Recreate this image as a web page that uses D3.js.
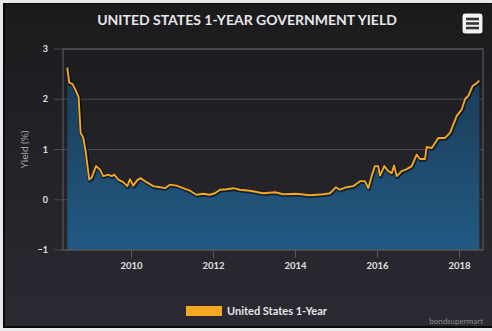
<!DOCTYPE html>
<html>
<head>
<meta charset="utf-8">
<script src="https://cdn.jsdelivr.net/npm/d3@7"></script>
<style>
  html, body { margin: 0; padding: 0; background: #e9e9ec; }
  svg { display: block; }
</style>
</head>
<body>
<div id="chart"></div>
<script>
// 1-year treasury yield
var dates = ["2008-06-12","2008-06-30","2008-07-30","2008-09-04","2008-09-21","2008-10-09","2008-11-01","2008-11-25","2008-12-25",
  "2009-01-15","2009-02-23","2009-03-31","2009-04-29","2009-06-12","2009-07-13","2009-08-05","2009-09-10","2009-10-24","2009-11-29","2009-12-23",
  "2010-01-21","2010-02-26","2010-03-28","2010-05-20","2010-07-18","2010-09-16","2010-10-30","2010-12-13",
  "2011-02-11","2011-04-11","2011-06-10","2011-08-08","2011-10-06","2011-12-05",
  "2012-01-18","2012-03-03","2012-05-02","2012-06-30","2012-08-29","2012-11-25",
  "2013-03-25","2013-07-07","2013-09-18",
  "2014-01-15","2014-05-14","2014-09-10","2014-11-08",
  "2015-01-01","2015-02-05","2015-04-05","2015-06-03","2015-08-02","2015-09-16","2015-10-15","2015-11-14","2015-12-13",
  "2016-01-12","2016-01-27","2016-03-06","2016-04-11","2016-05-11","2016-06-01","2016-06-25","2016-08-08","2016-09-22","2016-11-05","2016-12-19",
  "2017-01-18","2017-03-03","2017-03-18","2017-05-02","2017-06-30","2017-08-29","2017-10-12","2017-12-11",
  "2018-01-25","2018-02-23","2018-03-25","2018-05-03","2018-06-08","2018-06-30"];
var yields = [2.63,2.33,2.30,2.13,2.04,1.33,1.24,0.93,0.40,
  0.44,0.67,0.60,0.47,0.50,0.47,0.50,0.40,0.35,0.27,0.41,
  0.28,0.39,0.43,0.35,0.27,0.25,0.23,0.30,
  0.28,0.23,0.18,0.10,0.12,0.10,
  0.13,0.20,0.21,0.23,0.20,0.18,
  0.13,0.15,0.11,
  0.12,0.09,0.11,0.13,
  0.25,0.20,0.25,0.27,0.37,0.37,0.23,0.47,0.67,
  0.67,0.48,0.67,0.57,0.53,0.68,0.47,0.57,0.61,0.67,0.90,
  0.81,0.81,1.05,1.03,1.23,1.23,1.33,1.67,
  1.80,2.00,2.07,2.27,2.32,2.37];
var yTicks = [-1, 0, 1, 2, 3];
var xTickYears = [2010, 2012, 2014, 2016, 2018];

var W = 492, H = 331;
var plot = {left: 63, right: 483, top: 49, bottom: 250};
var parse = d3.timeParse("%Y-%m-%d");
var data = dates.map(function(d, i) { return {date: parse(d), value: yields[i]}; });

var svg = d3.select("#chart").append("svg")
  .attr("width", W).attr("height", H);

var defs = svg.append("defs");
var bg = defs.append("linearGradient").attr("id", "bg")
  .attr("x1", 0).attr("y1", 0).attr("x2", 0).attr("y2", 1);
bg.append("stop").attr("offset", "0%").attr("stop-color", "#1b1b1d");
bg.append("stop").attr("offset", "100%").attr("stop-color", "#2b2a33");

var fill = defs.append("linearGradient").attr("id", "fill")
  .attr("gradientUnits", "userSpaceOnUse")
  .attr("x1", 0).attr("y1", plot.top).attr("x2", 0).attr("y2", plot.bottom);
fill.append("stop").attr("offset", "0%").attr("stop-color", "#1a3750");
fill.append("stop").attr("offset", "100%").attr("stop-color", "#225a84");

// panel
svg.append("rect").attr("x", 3).attr("y", 3).attr("width", W - 3).attr("height", 325).attr("fill", "#0a0a0b");
svg.append("rect").attr("x", 5).attr("y", 4).attr("width", W - 5).attr("height", 322).attr("fill", "url(#bg)");

var x = d3.scaleTime()
  .domain([parse("2008-05-05"), parse("2018-08-02")])
  .range([plot.left, plot.right]);
var y = d3.scaleLinear().domain([-1, 3]).range([plot.bottom, plot.top]);

// grid lines and y labels
svg.append("g").selectAll("line").data(yTicks).join("line")
  .attr("x1", 54).attr("x2", plot.right)
  .attr("y1", function(d) { return y(d); }).attr("y2", function(d) { return y(d); })
  .attr("stroke", "#4b4b52").attr("stroke-width", 1.2);

svg.append("g").selectAll("text").data(yTicks).join("text")
  .attr("x", 48).attr("y", function(d) { return y(d) + 3; })
  .attr("text-anchor", "end")
  .attr("font-family", "Lato, sans-serif").attr("font-weight", "bold")
  .attr("font-size", 9).attr("fill", "#e0e0e3")
  .text(function(d) { return d < 0 ? "\u2212" + Math.abs(d) : d; });

svg.append("text")
  .attr("transform", "translate(28," + y(1) + ") rotate(-90)")
  .attr("text-anchor", "middle")
  .attr("font-family", "Lato, sans-serif").attr("font-size", 10)
  .attr("fill", "#a6a6aa")
  .text("Yield (%)");

// area + line
var area = d3.area()
  .x(function(d) { return x(d.date); })
  .y0(plot.bottom)
  .y1(function(d) { return y(d.value); });
var line = d3.line()
  .x(function(d) { return x(d.date); })
  .y(function(d) { return y(d.value); });

svg.append("path").datum(data).attr("d", area).attr("fill", "url(#fill)");
svg.append("path").datum(data).attr("d", line)
  .attr("fill", "none").attr("stroke", "rgba(0,0,0,0.55)").attr("stroke-width", 4)
  .attr("stroke-linejoin", "round").attr("transform", "translate(0.6,0.8)");
svg.append("path").datum(data).attr("d", line)
  .attr("fill", "none").attr("stroke", "#f7a823").attr("stroke-width", 1.9)
  .attr("stroke-linejoin", "round");

// plot frame
svg.append("rect")
  .attr("x", plot.left).attr("y", plot.top)
  .attr("width", plot.right - plot.left).attr("height", plot.bottom - plot.top)
  .attr("fill", "none").attr("stroke", "#55555c").attr("stroke-width", 1.2);

// x axis
var xAxis = d3.axisBottom(x)
  .tickValues(xTickYears.map(function(yr) { return new Date(yr, 0, 1); }))
  .tickFormat(d3.timeFormat("%Y"))
  .tickSize(8).tickSizeOuter(0).tickPadding(4);
var gx = svg.append("g").attr("transform", "translate(0," + plot.bottom + ")").call(xAxis);
gx.select(".domain").remove();
gx.selectAll("line").attr("stroke", "#55555c").attr("stroke-width", 1.2);
gx.selectAll("text").attr("font-family", "Lato, sans-serif").attr("font-weight", "bold")
  .attr("font-size", 9.5).attr("fill", "#e0e0e3");

// title
svg.append("text")
  .attr("x", 247).attr("y", 25)
  .attr("text-anchor", "middle")
  .attr("font-family", "Lato, sans-serif").attr("font-weight", "bold").attr("font-size", 14)
  .attr("fill", "#e6e6e8")
  .text("UNITED STATES 1-YEAR GOVERNMENT YIELD");

// export menu button
var menu = svg.append("g").attr("transform", "translate(462,13)");
menu.append("rect").attr("width", 21).attr("height", 21).attr("rx", 3)
  .attr("fill", "#f2f2f2").attr("stroke", "#111").attr("stroke-width", 1);
menu.selectAll("line").data([6, 10.5, 15]).join("line")
  .attr("x1", 4).attr("x2", 17)
  .attr("y1", function(d) { return d; }).attr("y2", function(d) { return d; })
  .attr("stroke", "#333").attr("stroke-width", 2.6);

// legend
svg.append("rect").attr("x", 186).attr("y", 306).attr("width", 36).attr("height", 10)
  .attr("fill", "#f7a823");
svg.append("text").attr("x", 227).attr("y", 315)
  .attr("font-family", "Lato, sans-serif").attr("font-weight", "bold").attr("font-size", 11)
  .attr("fill", "#e6e6e8")
  .text("United States 1-Year");

svg.append("text").attr("x", 483).attr("y", 324)
  .attr("text-anchor", "end")
  .attr("font-family", "Lato, sans-serif").attr("font-size", 8)
  .attr("fill", "#8a8a90")
  .text("bondsupermart");
</script>
</body>
</html>
